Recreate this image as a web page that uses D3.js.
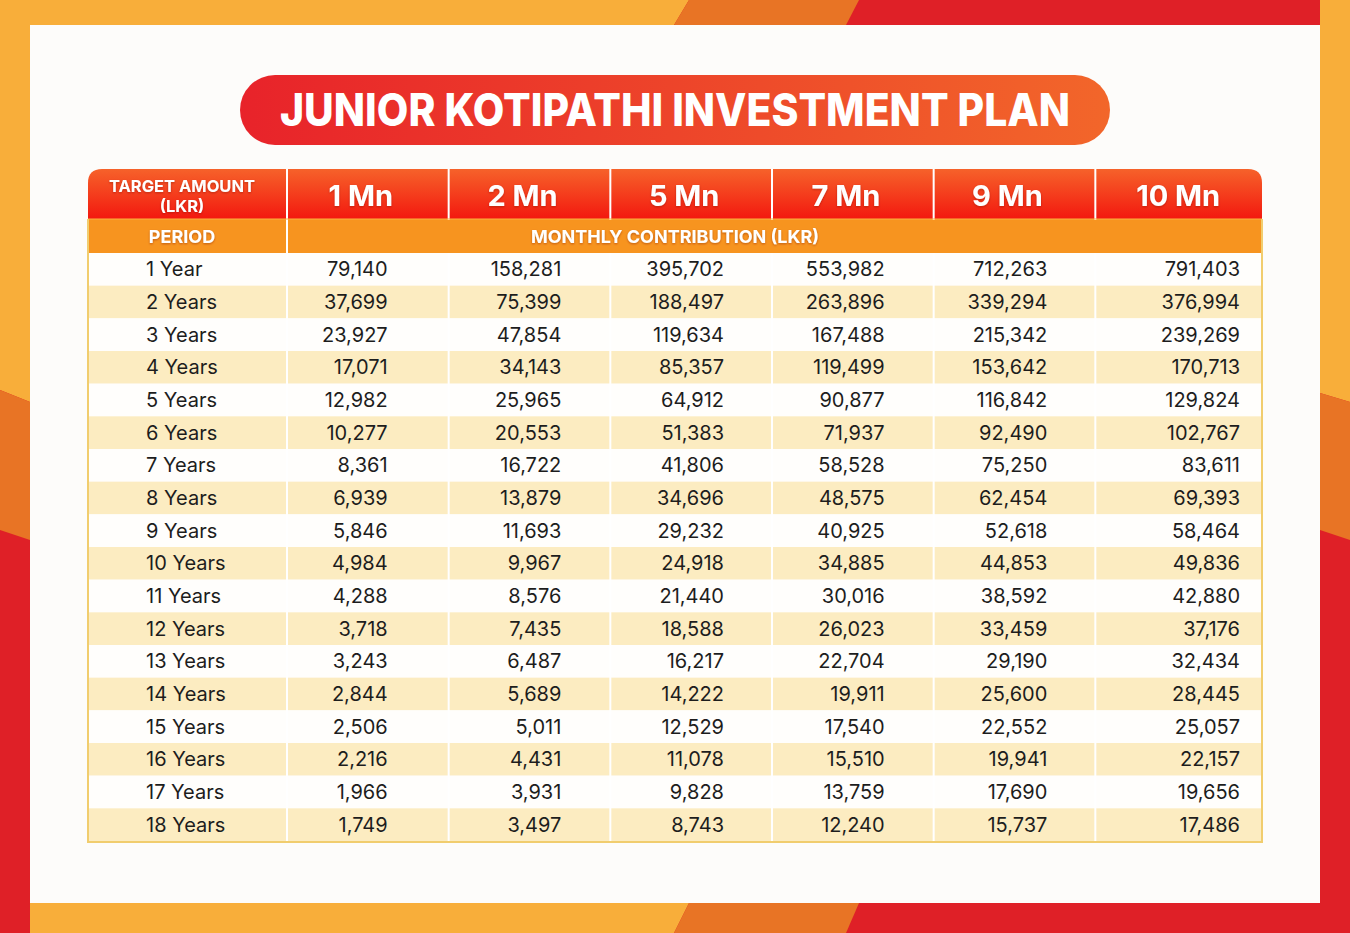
<!DOCTYPE html>
<html>
<head>
<meta charset="utf-8">
<script src="https://cdn.jsdelivr.net/npm/d3@7"></script>
<style>
  html, body { margin: 0; padding: 0; background: #fdfcfa; }
  svg { display: block; }
</style>
</head>
<body>
<div id="chart"></div>
<script>
// table values
var title = "JUNIOR KOTIPATHI INVESTMENT PLAN";
var targets = ["1 Mn", "2 Mn", "5 Mn", "7 Mn", "9 Mn", "10 Mn"];
var periods = ["1 Year", "2 Years", "3 Years", "4 Years", "5 Years", "6 Years", "7 Years", "8 Years", "9 Years",
  "10 Years", "11 Years", "12 Years", "13 Years", "14 Years", "15 Years", "16 Years", "17 Years", "18 Years"];

var mn1 = [79140, 37699, 23927, 17071, 12982, 10277, 8361, 6939, 5846, 4984, 4288, 3718, 3243, 2844, 2506, 2216, 1966, 1749];
var mn2 = [158281, 75399, 47854, 34143, 25965, 20553, 16722, 13879, 11693, 9967, 8576, 7435, 6487, 5689, 5011, 4431, 3931, 3497];
var mn5 = [395702, 188497, 119634, 85357, 64912, 51383, 41806, 34696, 29232, 24918, 21440, 18588, 16217, 14222, 12529, 11078, 9828, 8743];
var mn7 = [553982, 263896, 167488, 119499, 90877, 71937, 58528, 48575, 40925, 34885, 30016, 26023, 22704, 19911, 17540, 15510, 13759, 12240];
var mn9 = [712263, 339294, 215342, 153642, 116842, 92490, 75250, 62454, 52618, 44853, 38592, 33459, 29190, 25600, 22552, 19941, 17690, 15737];
var mn10 = [791403, 376994, 239269, 170713, 129824, 102767, 83611, 69393, 58464, 49836, 42880, 37176, 32434, 28445, 25057, 22157, 19656, 17486];

var series = [mn1, mn2, mn5, mn7, mn9, mn10];

var W = 1350, H = 933;
var YEL = "#f8ae3a", ORG = "#e87425", RED = "#df2027";
var FONT = "Inter, 'Open Sans', sans-serif";

var svg = d3.select("#chart").append("svg")
  .attr("width", W).attr("height", H);

var defs = svg.append("defs");
var g1 = defs.append("linearGradient").attr("id", "pill");
g1.append("stop").attr("offset", "0%").attr("stop-color", "#e8232a");
g1.append("stop").attr("offset", "100%").attr("stop-color", "#f2662a");

var g2 = defs.append("linearGradient").attr("id", "head")
  .attr("x1", 0).attr("y1", 0).attr("x2", 0).attr("y2", 1);
g2.append("stop").attr("offset", "0%").attr("stop-color", "#f6622a");
g2.append("stop").attr("offset", "100%").attr("stop-color", "#f3180f");

var shadow = defs.append("filter").attr("id", "tshadow")
  .attr("x", "-10%").attr("y", "-20%").attr("width", "120%").attr("height", "160%");
shadow.append("feDropShadow").attr("dx", 0).attr("dy", 1).attr("stdDeviation", 1)
  .attr("flood-color", "#7a1a00").attr("flood-opacity", 0.45);

// frame
var frame = svg.append("g");
frame.append("rect").attr("width", W).attr("height", H).attr("fill", RED);
var polys = [
  { c: YEL, p: [[0,0],[689,0],[674,25],[30,25],[30,402],[0,390]] },
  { c: YEL, p: [[1320,0],[1350,0],[1350,402],[1320,393]] },
  { c: ORG, p: [[689,0],[859,0],[846,25],[674,25]] },
  { c: ORG, p: [[0,390],[30,402],[30,540],[0,530]] },
  { c: ORG, p: [[1320,393],[1350,402],[1350,540],[1320,530]] },
  { c: YEL, p: [[30,903],[689,903],[674,933],[30,933]] },
  { c: ORG, p: [[689,903],[859,903],[846,933],[674,933]] }
];
frame.selectAll("polygon").data(polys).join("polygon")
  .attr("points", function (d) { return d.p.join(" "); })
  .attr("fill", function (d) { return d.c; });
frame.append("rect").attr("x", 30).attr("y", 25).attr("width", 1290).attr("height", 878)
  .attr("fill", "#fdfcfa");

// title pill
svg.append("rect").attr("x", 240).attr("y", 75).attr("width", 870).attr("height", 70)
  .attr("rx", 35).attr("fill", "url(#pill)");
svg.append("text").attr("x", 675).attr("y", 126)
  .attr("text-anchor", "middle")
  .attr("font-family", FONT).attr("font-weight", 800).attr("font-size", 45)
  .attr("textLength", 790).attr("lengthAdjust", "spacingAndGlyphs")
  .attr("fill", "#fff").text(title);

// table scales
var left = 88, right = 1262, firstCol = 287;
var x = d3.scaleBand().domain(targets).range([firstCol, 1257]);
var y = d3.scaleBand().domain(periods).range([253, 841]);
var head1 = [169, 219], head2 = [219, 253];
var endPad = [61, 49, 48, 49, 48, 17];
var headShift = -7;

var tbl = svg.append("g");

// header row 1 with rounded top
var r = 14;
tbl.append("path")
  .attr("d", "M" + left + "," + head1[1] + "V" + (head1[0] + r) +
    "Q" + left + "," + head1[0] + " " + (left + r) + "," + head1[0] +
    "H" + (right - r) + "Q" + right + "," + head1[0] + " " + right + "," + (head1[0] + r) +
    "V" + head1[1] + "Z")
  .attr("fill", "url(#head)");
tbl.append("rect").attr("x", left).attr("y", head2[0]).attr("width", right - left)
  .attr("height", head2[1] - head2[0]).attr("fill", "#f7941f");

// body rows
tbl.selectAll("rect.row").data(periods).join("rect")
  .attr("class", "row")
  .attr("x", left).attr("width", right - left)
  .attr("y", function (d) { return y(d); })
  .attr("height", y.bandwidth())
  .attr("fill", function (d, i) { return i % 2 ? "#fcecc1" : "#fffefc"; });

// column separators
var edges = [firstCol].concat(targets.slice(1).map(function (t) { return x(t); }));
tbl.selectAll("line.sep").data(edges).join("line")
  .attr("class", "sep")
  .attr("x1", function (d) { return d; }).attr("x2", function (d) { return d; })
  .attr("y1", head1[0])
  .attr("y2", 841)
  .attr("stroke", "#fff").attr("stroke-width", 2);
// cover separators in the "monthly contribution" band
tbl.append("rect").attr("x", firstCol + 1).attr("y", head2[0] + 1)
  .attr("width", right - firstCol - 1).attr("height", head2[1] - head2[0] - 1).attr("fill", "#f7941f");
tbl.append("line").attr("x1", left).attr("x2", right).attr("y1", head1[1]).attr("y2", head1[1])
  .attr("stroke", "#fbb040").attr("stroke-width", 1);

// table border
tbl.append("path")
  .attr("d", "M" + left + "," + head1[1] + "V842H" + right + "V" + head1[1])
  .attr("fill", "none").attr("stroke", "#f1cd6e").attr("stroke-width", 2);

// header texts
var ht = tbl.append("g").attr("fill", "#fff").attr("font-family", FONT)
  .attr("font-weight", 700).attr("filter", "url(#tshadow)");
ht.append("text").attr("x", 182).attr("y", 192).attr("text-anchor", "middle")
  .attr("font-size", 16.5).text("TARGET AMOUNT");
ht.append("text").attr("x", 182).attr("y", 212).attr("text-anchor", "middle")
  .attr("font-size", 16.5).text("(LKR)");
ht.selectAll("text.tgt").data(targets).join("text")
  .attr("class", "tgt")
  .attr("x", function (d, i) { return x(d) + x.bandwidth() / 2 + (i === 5 ? 2 : headShift); })
  .attr("y", 206).attr("text-anchor", "middle")
  .attr("font-size", 29).text(function (d) { return d; });
ht.append("text").attr("x", 182).attr("y", 243).attr("text-anchor", "middle")
  .attr("font-size", 18).text("PERIOD");
ht.append("text").attr("x", (left + right) / 2).attr("y", 243).attr("text-anchor", "middle")
  .attr("font-size", 18).text("MONTHLY CONTRIBUTION (LKR)");

// body texts
var fmt = d3.format(",");
var body = tbl.append("g").attr("font-family", FONT).attr("font-size", 20).attr("fill", "#1d1d1d");
body.selectAll("text.per").data(periods).join("text")
  .attr("class", "per")
  .attr("x", 146)
  .attr("y", function (d) { return y(d) + y.bandwidth() / 2 + 7; })
  .text(function (d) { return d; });

var cells = [];
series.forEach(function (vals, ci) {
  vals.forEach(function (v, ri) {
    cells.push({ t: targets[ci], p: periods[ri], v: v, ci: ci });
  });
});
body.selectAll("text.val").data(cells).join("text")
  .attr("class", "val")
  .attr("text-anchor", "end")
  .attr("x", function (d) { return x(d.t) + x.bandwidth() - endPad[d.ci]; })
  .attr("y", function (d) { return y(d.p) + y.bandwidth() / 2 + 7; })
  .text(function (d) { return fmt(d.v); });
</script>
</body>
</html>
